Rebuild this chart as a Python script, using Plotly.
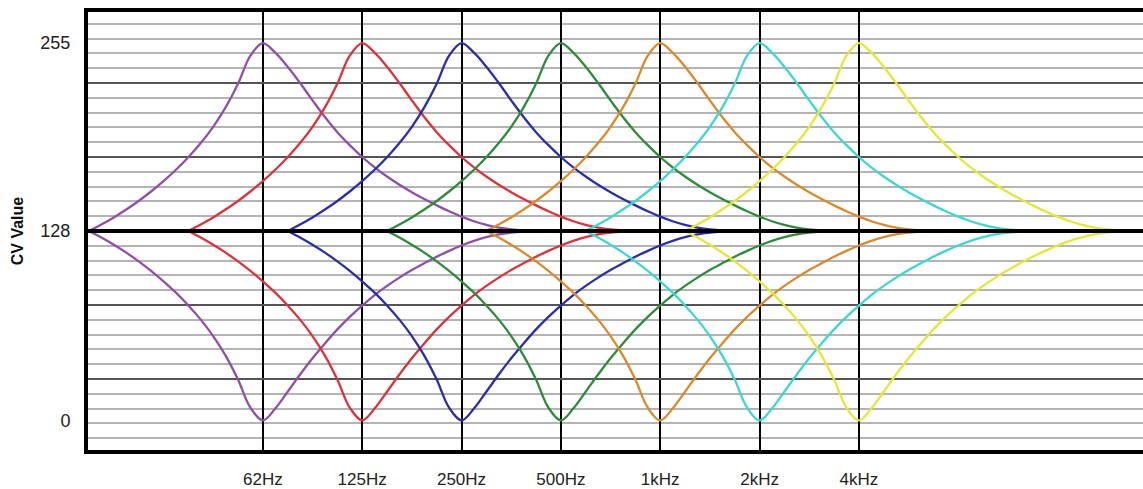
import plotly.graph_objects as go

# Band centres (octave index 0..6) and their labels
BANDS = ["62Hz", "125Hz", "250Hz", "500Hz", "1kHz", "2kHz", "4kHz"]
BAND_POS = [0, 1, 2, 3, 4, 5, 6]
COLORS = ["#8E50A8", "#D8343C", "#2A2FA5", "#2F8A3C", "#D98A2E", "#3FD6D0", "#E6E638"]

# Response profile: offset from band centre (octaves, 1/8 steps)
OFFSETS = [-1.75, -1.625, -1.5, -1.375, -1.25, -1.125, -1.0, -0.875, -0.75, -0.625,
           -0.5, -0.375, -0.25, -0.125, 0.0, 0.125, 0.25, 0.375, 0.5, 0.625,
           0.75, 0.875, 1.0, 1.125, 1.25, 1.375, 1.5, 1.625, 1.75, 1.875,
           2.0, 2.125, 2.25, 2.375, 2.5, 2.625, 2.75]
BOOST = [128, 132.4, 137.2, 142.5, 148.3, 154.7, 161.7, 169.4, 177.9, 187.4,
         198.4, 211.5, 227.5, 246.5, 255, 248.5, 239, 228, 216.3, 205,
         194.8, 186, 178, 171, 164.8, 159.2, 154.2, 149.6, 145.3, 141.3,
         137.7, 134.6, 132.1, 130.3, 129.1, 128.4, 128]
CUT = [128, 123.6, 118.7, 113.4, 107.5, 101.1, 94, 86.3, 77.7, 68.1,
       57, 43.8, 27.6, 8.6, 0, 8, 19.4, 31, 42, 52,
       61.5, 70, 77.6, 84.7, 90.9, 96.5, 101.6, 106.2, 110.6, 114.6,
       118.2, 121.3, 123.9, 125.7, 126.9, 127.6, 128]

CV_TICKS = [0, 128, 255]
CENTER = 128
Y_RANGE = [-20, 276]
X_RANGE = [-1.76, 8.86]

fig = go.Figure()
for pos, col in zip(BAND_POS, COLORS):
    xs = [pos + o for o in OFFSETS]
    for vals in (BOOST, CUT):
        fig.add_trace(go.Scatter(x=xs, y=vals, mode="lines",
                                 line=dict(color=col, width=2.3, shape="spline", smoothing=1.0),
                                 hoverinfo="skip", showlegend=False))

# invisible trace to anchor the secondary (darker) grid axis
fig.add_trace(go.Scatter(x=[X_RANGE[0]], y=[CENTER], yaxis="y2", mode="markers",
                         marker=dict(opacity=0), showlegend=False, hoverinfo="skip"))

fig.add_shape(type="line", xref="paper", x0=0, x1=1, yref="y", y0=CENTER, y1=CENTER,
              line=dict(color="black", width=4), layer="above")

fig.update_layout(
    width=1143, height=489,
    margin=dict(l=88, r=0, t=12, b=39),
    paper_bgcolor="white", plot_bgcolor="white",
    font=dict(family="Liberation Sans, Arial, sans-serif", color="#222", size=17),
    xaxis=dict(range=X_RANGE, tickmode="array", tickvals=BAND_POS, ticktext=BANDS,
               showgrid=True, gridcolor="black", gridwidth=2, zeroline=False,
               showline=True, mirror=True, linecolor="black", linewidth=4,
               ticks="", ticklabelstandoff=11, tickfont=dict(size=17), automargin=False),
    yaxis=dict(range=Y_RANGE, tickmode="array", tickvals=CV_TICKS,
               showgrid=False, zeroline=False, automargin=False,
               showline=True, linecolor="black", linewidth=4, ticks="",
               ticklabelstandoff=10, tickfont=dict(size=18),
               minor=dict(tick0=CENTER, dtick=10, showgrid=True,
                          gridcolor="#b4b4b4", gridwidth=1.5, ticks=""),
               title=dict(text="<b>CV Value</b>", font=dict(size=16, color="#111"), standoff=14)),
    yaxis2=dict(range=Y_RANGE, overlaying="y", side="left", tickmode="linear",
                tick0=CENTER, dtick=50, showgrid=True, gridcolor="#555555", gridwidth=1.5,
                showticklabels=False, zeroline=False, showline=False, ticks="", automargin=False),
)

fig.write_html("out.html", post_script="document.body.style.margin='0';",
               config={"displayModeBar": False})
